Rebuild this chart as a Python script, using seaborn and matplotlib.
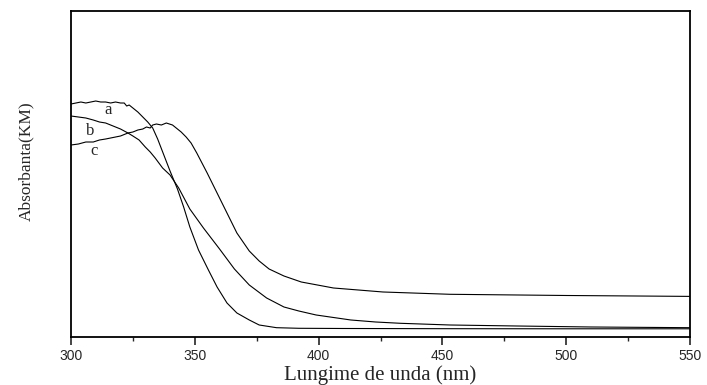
import pandas as pd
import matplotlib
matplotlib.use("Agg")
import matplotlib.pyplot as plt
import seaborn as sns
from matplotlib.ticker import MultipleLocator, NullLocator

#%% DATA (wavelength in nm, absorbance in arbitrary units)
a_nm = [300, 302, 304, 306, 308, 310, 312, 314, 316, 318, 320, 321.5, 322.5, 323.5,
        325, 327, 329, 331, 333, 335, 337.5, 340, 343, 345.5, 348, 351.5, 355.5, 359,
        363, 367, 372, 376, 383, 392, 410, 450, 500, 550]
a_abs = [233, 234, 235, 234, 235, 236, 235, 235, 234, 235, 234, 234, 231, 232,
         229, 225, 220, 215, 209, 198, 182, 166, 148, 130, 110, 87, 67, 50,
         34, 24, 17, 12, 9.3, 8.7, 8.5, 8.3, 8.2, 8.2]

b_nm = [300, 303, 306, 309, 311.5, 314, 316, 318, 320, 323, 325, 327.5, 330, 332,
        334, 337, 340, 343.5, 348, 353.5, 360, 366, 372, 379, 386, 392, 399, 406,
        413, 423, 433, 453, 480, 510, 550]
b_abs = [221, 220, 219, 217, 215, 214, 212, 210, 208, 204, 201, 197, 190, 185,
         179, 169, 162, 149, 128, 109, 88, 68, 52, 39, 30, 26, 22, 19.5,
         17, 15, 13.7, 12, 11, 10, 9.3]

c_nm = [300, 303, 306, 309, 311.5, 314, 316, 318, 320, 323, 325, 327, 329, 330.5,
        332, 333, 334.5, 336.5, 338.5, 341, 343, 344.5, 346.5, 348.5, 350.8, 355,
        359, 363, 367, 372, 376, 380, 386, 393, 406, 426, 453, 500, 550]
c_abs = [192, 193, 195, 195, 197, 198, 199, 200, 201, 204, 205, 207, 208, 210,
         209, 212, 213, 212, 214, 212, 208, 205, 200, 194, 184, 164,
         144, 124, 104, 86, 76, 68, 61, 55, 49, 45, 42.7, 41.5, 40.6]

curve_labels = ["a", "b", "c"]
label_nm = [314.8, 307.7, 309.4]
label_abs = [227, 206, 186]

x_ticks = [300, 350, 400, 450, 500, 550]

#%% PLOT
sns.set_style("ticks")
plt.rcParams["font.family"] = ["Liberation Sans", "DejaVu Sans"]

fig, ax = plt.subplots(figsize=(7.07, 3.85), dpi=100)
fig.subplots_adjust(left=0.1004, right=0.976, bottom=0.1247, top=0.9714)

for xs, ys in [(a_nm, a_abs), (b_nm, b_abs), (c_nm, c_abs)]:
    df = pd.DataFrame({"nm": xs, "abs": ys})
    sns.lineplot(data=df, x="nm", y="abs", ax=ax, color="black", linewidth=0.8,
                 estimator=None, sort=False)

for lab, lx, ly in zip(curve_labels, label_nm, label_abs):
    ax.text(lx, ly, lab, ha="center", va="center", fontsize=12,
            family=["Liberation Serif"])

ax.set_xlim(300, 550)
ax.set_ylim(0, 326)
ax.set_xticks(x_ticks)
ax.xaxis.set_minor_locator(MultipleLocator(25))
ax.yaxis.set_major_locator(NullLocator())
ax.tick_params(axis="x", which="major", direction="out", length=6, width=1.2,
               labelsize=10, pad=2.5)
ax.tick_params(axis="x", which="minor", direction="out", length=3, width=1.0)
for sp in ax.spines.values():
    sp.set_linewidth(1.3)
    sp.set_color("black")

ax.set_xlabel("Lungime de unda (nm)", family=["Liberation Serif"], fontsize=15)
ax.xaxis.set_label_coords(0.5, -0.088)
ax.set_ylabel("Absorbanta(KM)", family=["Liberation Serif"], fontsize=12.5)
ax.yaxis.set_label_coords(-0.06, 0.54)

fig.savefig("out.png", dpi=100)
